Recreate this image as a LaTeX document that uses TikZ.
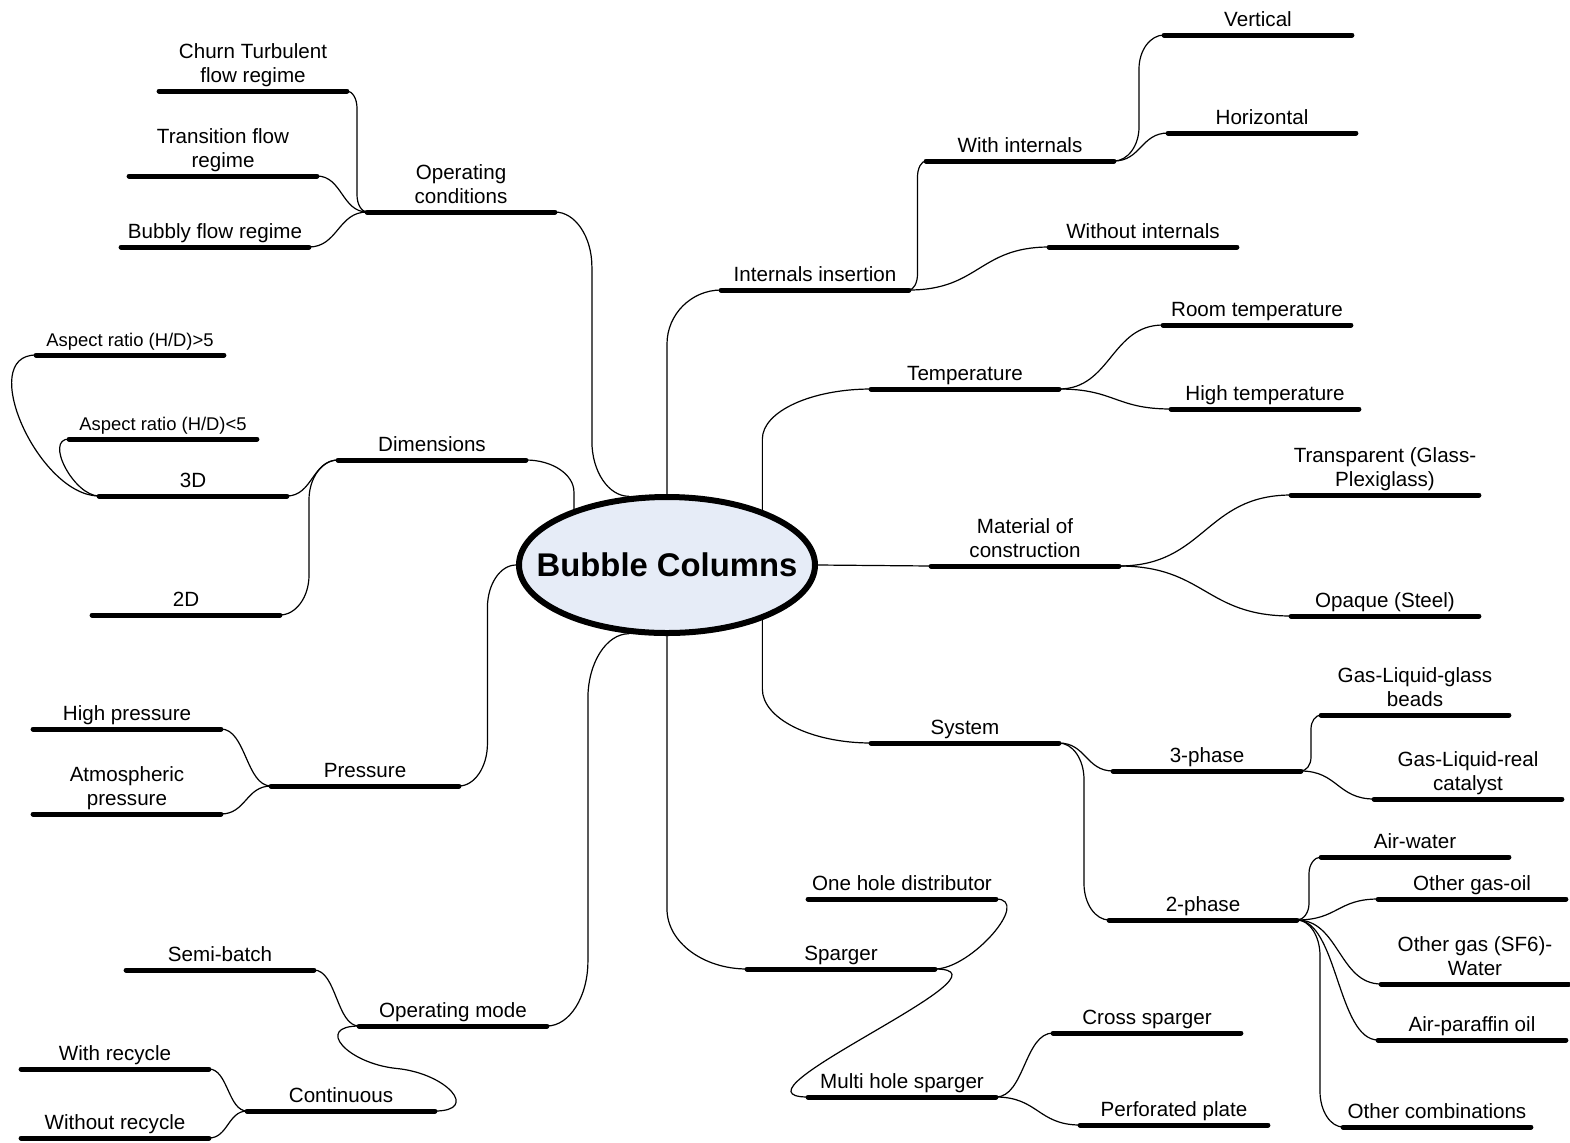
\documentclass[tikz,border=0pt]{standalone}
\usepackage{fontspec}
\usepackage{tikz}
\usetikzlibrary{calc, shapes.geometric}
\newfontfamily\mapfont{Liberation Sans}
\definecolor{hubfill}{RGB}{230, 236, 247}

\tikzset{
  hub/.style={ellipse, draw, line width=3pt, fill=hubfill, minimum width=148pt, minimum height=68pt,
    inner sep=0pt, font=\mapfont\bfseries\fontsize{16.4}{19}\selectfont},
  bar/.style={draw, line width=2.5pt, line cap=round},
  topic/.style={anchor=south, align=center, inner xsep=0pt, inner ysep=1.8pt, text depth=2.5pt,
    minimum width=93.5pt, font=\mapfont\fontsize{10.3}{11.9}\selectfont,
    append after command={(\tikzlastnode.south west) edge[bar] (\tikzlastnode.south east)}},
  smalltopic/.style={topic, font=\mapfont\fontsize{9.2}{11}\selectfont},
  link/.style={draw, line width=0.6pt},
  % wide S curve
  branch/.style={to path={let \p1=(\tikztostart), \p2=(\tikztotarget) in
    .. controls ({(\x1+\x2)/2},\y1) and ({(\x1+\x2)/2},\y2) .. (\tikztotarget)}},
  % tall S curve: round corner, straight riser, round corner
  riser/.style={to path={let \p1=(\tikztostart), \p2=(\tikztotarget),
    \n1={(\x1+\x2)/2},
    \n2={min(abs(\y2-\y1)/2, 0.55*abs(\x2-\x1)+0.05*abs(\y2-\y1))*sign(\y2-\y1)} in
    .. controls ({0.45*\x1+0.55*\n1},\y1) and (\n1,{\y1+0.45*(\n2)}) .. (\n1,{\y1+(\n2)})
    -- (\n1,{\y2-(\n2)})
    .. controls (\n1,{\y2-0.45*(\n2)}) and ({0.45*\x2+0.55*\n1},\y2) .. (\tikztotarget)}},
  % straight out of the hub, then one round corner
  elbow/.style={to path={let \p1=(\tikztostart), \p2=(\tikztotarget),
    \n1={#1*sign(\y1-\y2)} in
    -- (\x1,{\y2+(\n1)})
    .. controls (\x1,{\y2+0.45*(\n1)}) and ({0.45*\x2+0.55*\x1},\y2) .. (\tikztotarget)}}
}

\begin{document}
\begin{tikzpicture}[x=0.5pt, y=-0.5pt, line join=round, line cap=round]
    \useasboundingbox (0,0) rectangle (1570,1142);

    % Central node
    \node[hub] (bc) at (667,565) {\makebox[0pt]{Bubble Columns}};

    % Operating conditions
    \node[topic] (opcond) at (461,212) {Operating\\conditions};
    \node[topic] (churn) at (253,91) {Churn Turbulent\\flow regime};
    \node[topic] (trans) at (223,176) {Transition flow\\regime};
    \node[topic] (bubbly) at (215,247) {Bubbly flow regime};

    % Dimensions
    \node[topic] (dims) at (432,460) {Dimensions};
    \node[topic] (d3) at (193,496) {3D};
    \node[topic] (d2) at (186,615) {2D};
    \node[smalltopic] (arhi) at (130,355) {Aspect ratio (H/D)>5};
    \node[smalltopic] (arlo) at (163,439) {Aspect ratio (H/D)<5};

    % Pressure
    \node[topic] (press) at (365,786) {Pressure};
    \node[topic] (highp) at (127,729) {High pressure};
    \node[topic] (atmp) at (127,814) {Atmospheric\\pressure};

    % Operating mode
    \node[topic] (opmode) at (453,1026) {Operating mode};
    \node[topic] (semib) at (220,970) {Semi-batch};
    \node[topic] (contin) at (341,1111) {Continuous};
    \node[topic] (withrec) at (115,1069) {With recycle};
    \node[topic] (worec) at (115,1138) {Without recycle};

    % Internals insertion
    \node[topic] (intins) at (815,290) {Internals insertion};
    \node[topic] (withint) at (1020,161) {With internals};
    \node[topic] (vert) at (1258,35) {Vertical};
    \node[topic] (horiz) at (1262,133) {Horizontal};
    \node[topic] (woint) at (1143,247) {Without internals};

    % Temperature
    \node[topic] (temp) at (965,389) {Temperature};
    \node[topic] (roomt) at (1257,325) {Room temperature};
    \node[topic] (hight) at (1265,409) {High temperature};

    % Material of construction
    \node[topic] (mat) at (1025,566) {Material of\\construction};
    \node[topic] (transp) at (1385,495) {Transparent (Glass-\\Plexiglass)};
    \node[topic] (opaque) at (1385,616) {Opaque (Steel)};

    % System
    \node[topic] (sys) at (965,743) {System};
    \node[topic] (ph3) at (1207,771) {3-phase};
    \node[topic] (glbeads) at (1415,715) {Gas-Liquid-glass\\beads};
    \node[topic] (glcat) at (1468,799) {Gas-Liquid-real\\catalyst};
    \node[topic] (ph2) at (1203,920) {2-phase};
    \node[topic] (airw) at (1415,857) {Air-water};
    \node[topic] (gasoil) at (1472,899) {Other gas-oil};
    \node[topic] (sfsix) at (1475,984) {Other gas (SF6)-\\Water};
    \node[topic] (paraf) at (1472,1040) {Air-paraffin oil};
    \node[topic] (othcomb) at (1437,1127) {Other combinations};

    % Sparger
    \node[topic] (sparg) at (841,969) {Sparger};
    \node[topic] (onehole) at (902,899) {One hole distributor};
    \node[topic] (multih) at (902,1097) {Multi hole sparger};
    \node[topic] (cross) at (1147,1033) {Cross sparger};
    \node[topic] (perf) at (1174,1125) {Perforated plate};

    % Main branches
    \draw[link] (bc.119) to[riser] (opcond.south east);
    \draw[link] (bc.149) to[elbow=16] (dims.south east);
    \draw[link] (bc.west) to[riser] (press.south east);
    \draw[link] (bc.241) to[riser] (opmode.south east);
    \draw[link] (bc.north) to[elbow=27] (intins.south west);
    \draw[link] (bc.30) to[elbow=25] (temp.south west);
    \draw[link] (bc.east) -- (mat.south west);
    \draw[link] (bc.-30) to[elbow=27] (sys.south west);
    \draw[link] (bc.south) to[elbow=30] (sparg.south west);

    % Sub branches, left
    \draw[link] (opcond.south west) to[riser] (churn.south east);
    \foreach \c in {trans, bubbly}
        \draw[link] (opcond.south west) to[branch] (\c.south east);
    \draw[link] (dims.south west) to[branch] (d3.south east);
    \draw[link] (dims.south west) to[riser] (d2.south east);
    \foreach \c in {arhi, arlo}
        \draw[link] (d3.south west) to[out=180, in=180] (\c.south west);
    \foreach \c in {highp, atmp}
        \draw[link] (press.south west) to[branch] (\c.south east);
    \draw[link] (opmode.south west) to[branch] (semib.south east);
    \draw[link] (opmode.south west) .. controls +(-45,0) and +(-50,-5)
        .. ($(opmode.south west)!.5!(contin.south east)$)
        .. controls +(50,5) and +(45,0) .. (contin.south east);
    \foreach \c in {withrec, worec}
        \draw[link] (contin.south west) to[branch] (\c.south east);

    % Sub branches, right
    \draw[link] (intins.south east) to[riser] (withint.south west);
    \draw[link] (intins.south east) to[branch] (woint.south west);
    \draw[link] (withint.south east) to[riser] (vert.south west);
    \draw[link] (withint.south east) to[branch] (horiz.south west);
    \foreach \c in {roomt, hight}
        \draw[link] (temp.south east) to[branch] (\c.south west);
    \foreach \c in {transp, opaque}
        \draw[link] (mat.south east) to[branch] (\c.south west);
    \draw[link] (sys.south east) to[branch] (ph3.south west);
    \draw[link] (sys.south east) to[riser] (ph2.south west);
    \draw[link] (ph3.south east) to[riser] (glbeads.south west);
    \draw[link] (ph3.south east) to[branch] (glcat.south west);
    \foreach \c in {airw, othcomb}
        \draw[link] (ph2.south east) to[riser] (\c.south west);
    \foreach \c in {gasoil, sfsix, paraf}
        \draw[link] (ph2.south east) to[branch] (\c.south west);
    \draw[link] (sparg.south east) to[out=0, in=0] (onehole.south east);
    \draw[link] (sparg.south east) to[out=0, in=180, looseness=1.3] (multih.south west);
    \foreach \c in {cross, perf}
        \draw[link] (multih.south east) to[branch] (\c.south west);
\end{tikzpicture}
\end{document}
